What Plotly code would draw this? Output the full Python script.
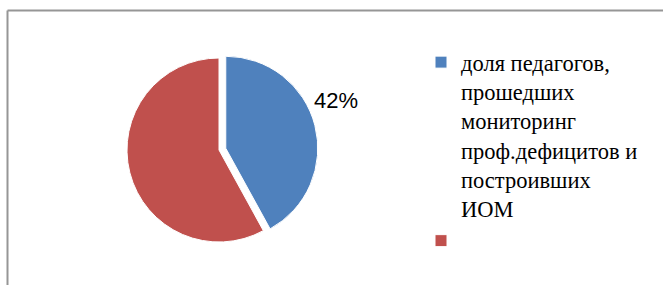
import plotly.graph_objects as go

labels = ["доля педагогов,<br>прошедших<br>мониторинг<br>проф.дефицитов и<br>построивших<br>ИОМ", " "]
values = [42, 58]
colors = ["#4F81BD", "#C0504D"]
pulls = [0.076, 0]

W, H = 663, 285

fig = go.Figure()
fig.add_trace(go.Pie(
    labels=labels,
    values=values,
    sort=False,
    direction="clockwise",
    rotation=0,
    pull=pulls,
    marker=dict(colors=colors, line=dict(color="white", width=1)),
    textinfo="none",
    domain=dict(x=[120 / W, 318 / W], y=[1 - 249 / H, 1 - 51 / H]),
    showlegend=True,
    hoverinfo="label+percent",
))

pct_label = f"{round(100 * values[0] / sum(values))}%"

fig.update_layout(
    width=W, height=H,
    margin=dict(l=0, r=0, t=0, b=0),
    paper_bgcolor="white",
    plot_bgcolor="white",
    legend=dict(
        x=421 / W, xanchor="left",
        y=1 - 41 / H, yanchor="top",
        valign="top",
        font=dict(family="Liberation Serif, Times New Roman, serif", size=22.5, color="black"),
        bgcolor="rgba(0,0,0,0)",
        tracegroupgap=0,
    ),
    annotations=[
        dict(text=pct_label, xref="paper", yref="paper",
             x=312 / W, y=1 - 100 / H, xanchor="left", yanchor="middle",
             showarrow=False,
             font=dict(family="Liberation Sans", size=22, color="black")),
    ],
    shapes=[
        dict(type="line", xref="paper", yref="paper",
             x0=7.5 / W, x1=1.05, y0=1 - 10.5 / H, y1=1 - 10.5 / H,
             line=dict(color="#969696", width=2)),
        dict(type="line", xref="paper", yref="paper",
             x0=7.5 / W, x1=7.5 / W, y0=-0.05, y1=1 - 10.5 / H,
             line=dict(color="#969696", width=2)),
    ],
)

fig.write_html("out.html", config={"displayModeBar": False},
               post_script="document.body.style.margin='0';document.body.style.overflow='hidden';")
